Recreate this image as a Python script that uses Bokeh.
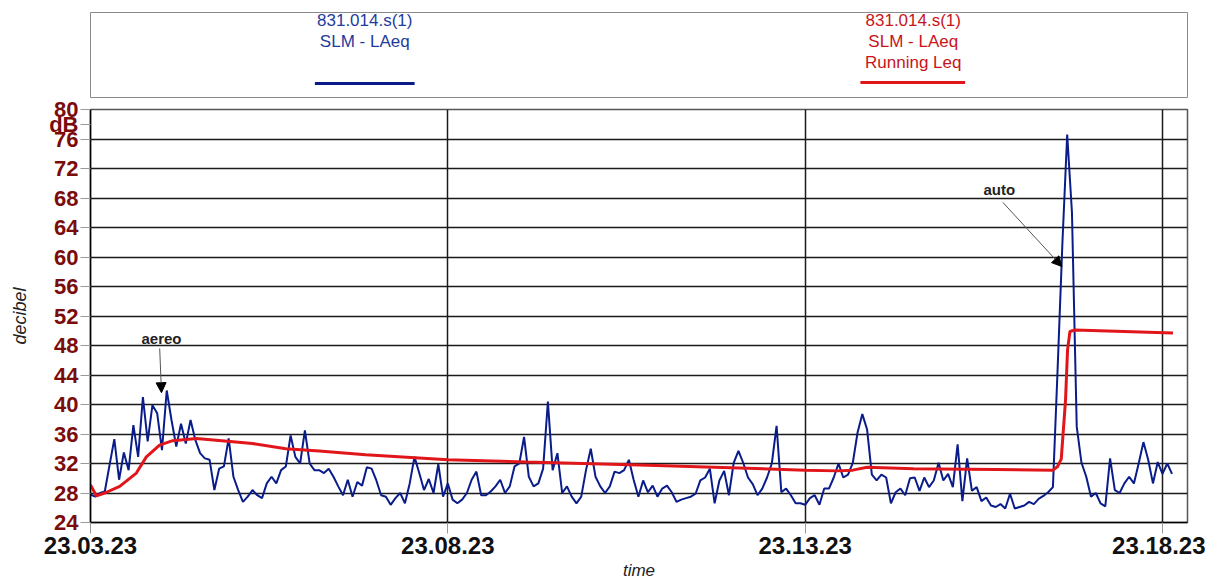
from bokeh.plotting import figure
from bokeh.layouts import column
from bokeh.models import Range1d, FixedTicker, Label, Arrow, NormalHead, Title
from bokeh.core.properties import value
from bokeh.embed import file_html
from bokeh.resources import INLINE

# ---------------- data ----------------
tick_seconds = [0, 300, 600, 900]
tick_labels = ["23.03.23", "23.08.23", "23.13.23", "23.18.23"]
y_ticks = [24, 28, 32, 36, 40, 44, 48, 52, 56, 60, 64, 68, 72, 76, 80]
unit_pos = 77.9
unit_label = "dB"

sample_step = 4  # seconds between LAeq samples
laeq = [
    27.8, 27.5, 28.0, 28.2, 31.8, 35.3, 29.8, 33.5, 31.1, 37.2,
    32.9, 41.0, 35.0, 39.9, 38.8, 33.8, 41.9, 37.9, 34.3, 37.4,
    34.7, 37.9, 35.2, 33.4, 32.7, 32.5, 28.4, 31.3, 31.6, 35.4,
    30.2, 28.4, 26.8, 27.5, 28.4, 27.7, 27.3, 29.3, 30.2, 29.3,
    31.1, 31.6, 35.8, 32.9, 32.0, 36.5, 32.0, 31.1, 31.1, 30.7,
    31.3, 30.2, 28.9, 27.7, 29.8, 27.5, 29.5, 29.0, 31.5, 31.3,
    29.7, 27.7, 27.5, 26.4, 27.3, 28.0, 26.6, 29.3, 32.9, 30.7,
    28.4, 29.9, 28.0, 31.9, 27.5, 29.3, 27.1, 26.6, 27.1, 28.0,
    29.8, 30.9, 27.7, 27.7, 28.2, 28.9, 29.8, 28.0, 28.9, 31.6,
    32.0, 35.6, 30.2, 28.9, 29.3, 31.3, 40.4, 31.1, 33.4, 28.0,
    28.9, 27.5, 26.6, 27.5, 31.1, 34.0, 30.2, 28.9, 28.0, 28.9,
    30.9, 30.7, 31.1, 32.5, 29.8, 27.5, 29.7, 28.1, 29.0, 27.5,
    28.6, 29.0, 28.1, 26.8, 27.1, 27.3, 27.5, 27.9, 29.7, 30.1,
    31.3, 26.6, 29.7, 31.0, 27.7, 32.1, 33.7, 32.1, 30.1, 29.2,
    27.7, 28.6, 30.1, 32.0, 37.1, 28.1, 28.6, 27.7, 26.6, 26.6,
    26.4, 27.3, 27.7, 26.4, 28.6, 28.6, 30.1, 32.0, 30.1, 30.5,
    32.1, 36.2, 38.7, 36.6, 30.5, 29.7, 30.5, 30.1, 26.6, 28.1,
    28.6, 27.7, 30.0, 30.1, 28.3, 30.1, 28.8, 29.7, 32.1, 29.7,
    30.6, 28.8, 34.6, 26.9, 32.7, 28.3, 28.8, 26.9, 27.4, 26.3,
    26.1, 26.5, 25.9, 27.9, 25.9, 26.1, 26.3, 26.8, 26.5, 27.2,
    27.6, 28.1, 28.8, 45.0, 62.0, 76.6, 66.0, 37.0, 32.1, 30.2,
    27.5, 28.0, 26.6, 26.2, 32.7, 28.4, 28.0, 29.3, 30.2, 29.3,
    32.0, 34.9, 32.5, 29.3, 32.2, 30.6, 32.0, 30.6,
]
laeq_t = [i * sample_step for i in range(len(laeq))]

running_t = [0, 5, 12, 24.5, 38.5, 46.9, 58, 69, 89, 136, 164, 192, 231, 300,
             366, 461, 600, 627, 640, 652, 691, 760, 808, 812, 815, 818.6,
             820.3, 822.3, 826.5, 908.8]
running_leq = [29.1, 27.6, 28.0, 28.9, 30.7, 32.9, 34.5, 35.1, 35.4, 34.7, 34.0,
               33.7, 33.2, 32.5, 32.2, 31.8, 31.1, 31.0, 31.1, 31.5, 31.3, 31.2,
               31.1, 31.6, 32.6, 40.6, 47.4, 49.9, 50.1, 49.7]

series_names = ["831.014.s(1)\nSLM - LAeq", "831.014.s(1)\nSLM - LAeq\nRunning Leq"]

BLUE = "#0a1c8a"
BLUE_TXT = "#1f3b9c"
RED = "#e0161b"
RED_TXT = "#c8141a"
TICK_RED = "#7a0c0c"
FONT = "Liberation Sans"

# ---------------- legend box ----------------
leg = figure(width=1205, height=98, output_backend="svg", toolbar_location=None,
             x_range=Range1d(0, 1100), y_range=Range1d(85, 0),
             min_border_left=90, min_border_right=15, min_border_top=12, min_border_bottom=1)
leg.axis.visible = False
leg.grid.visible = False
leg.outline_line_color = "#8a8a8a"
leg.outline_line_width = 1

entries = [(275, 225, 325, 71, BLUE, BLUE_TXT, series_names[0]),
           (825, 772, 877, 70, RED, RED_TXT, series_names[1])]
for cx, x0, x1, ly, lc, tc, name in entries:
    lines = name.split("\n")
    leg.text(x=[cx] * len(lines), y=[8 + 21 * k for k in range(len(lines))], text=lines,
             text_align="center", text_baseline="middle", text_font=value(FONT),
             text_font_size="17px", text_color=tc)
    leg.line(x=[x0, x1], y=[ly, ly], line_color=lc, line_width=3)

# ---------------- main plot ----------------
p = figure(width=1205, height=486, output_backend="svg", toolbar_location=None,
           x_range=Range1d(0, 921), y_range=Range1d(24, 80),
           min_border_left=89, min_border_right=18, min_border_top=11, min_border_bottom=62)

p.line(laeq_t, laeq, line_color=BLUE, line_width=2)
p.line(running_t, running_leq, line_color=RED, line_width=3)

p.yaxis.ticker = FixedTicker(ticks=y_ticks + [unit_pos])
p.yaxis.major_label_overrides = {unit_pos: unit_label}
p.yaxis.minor_tick_line_color = None
p.yaxis.major_tick_out = 10
p.yaxis.major_tick_in = 0
p.yaxis.major_tick_line_color = "#9a9a9a"
p.yaxis.axis_line_color = "black"
p.yaxis.axis_line_width = 1.5
p.yaxis.major_label_text_font = FONT
p.yaxis.major_label_text_font_style = "bold"
p.yaxis.major_label_text_font_size = "22px"
p.yaxis.major_label_text_color = TICK_RED
p.yaxis.major_label_standoff = 2
p.yaxis.axis_label = "decibel"
p.yaxis.axis_label_text_font = FONT
p.yaxis.axis_label_text_font_style = "italic"
p.yaxis.axis_label_text_font_size = "18px"
p.yaxis.axis_label_text_color = "#222222"
p.yaxis.axis_label_standoff = 16

p.xaxis.ticker = FixedTicker(ticks=tick_seconds)
p.xaxis.major_label_overrides = {t: l for t, l in zip(tick_seconds, tick_labels)}
p.xaxis.minor_tick_line_color = None
p.xaxis.major_tick_out = 11
p.xaxis.major_tick_in = 0
p.xaxis.major_tick_line_color = "#9a9a9a"
p.xaxis.axis_line_color = "black"
p.xaxis.axis_line_width = 1.5
p.xaxis.major_label_text_font = FONT
p.xaxis.major_label_text_font_style = "bold"
p.xaxis.major_label_text_font_size = "24px"
p.xaxis.major_label_text_color = "#111111"
p.xaxis.major_label_standoff = 3

p.ygrid.ticker = FixedTicker(ticks=y_ticks)
p.ygrid.grid_line_color = "#1a1a1a"
p.ygrid.grid_line_width = 1.5
p.xgrid.ticker = FixedTicker(ticks=tick_seconds)
p.xgrid.grid_line_color = "#1a1a1a"
p.xgrid.grid_line_width = 1.5
p.outline_line_color = "#555555"
p.outline_line_width = 1.5

# x-axis title
p.add_layout(Title(text="time", align="center", text_font=FONT, text_font_style="italic",
                   text_font_size="17px", text_color="#222222", standoff=5), "below")

# annotations
p.add_layout(Label(x=59.6, y=49.0, text="aereo", text_align="center", text_baseline="middle",
                   text_font=FONT, text_font_style="bold", text_font_size="15px",
                   text_color="#222222"))
p.add_layout(Arrow(x_start=58.1, y_start=47.6, x_end=59.6, y_end=41.6, line_color="#555555",
                   line_width=1, end=NormalHead(size=10, fill_color="black", line_color="black")))
p.add_layout(Label(x=763, y=69.2, text="auto", text_align="center", text_baseline="middle",
                   text_font=FONT, text_font_style="bold", text_font_size="15px",
                   text_color="#222222"))
p.add_layout(Arrow(x_start=766, y_start=67.4, x_end=815.6, y_end=58.7, line_color="#555555",
                   line_width=1, end=NormalHead(size=10, fill_color="black", line_color="black")))

layout = column(leg, p, spacing=0)
open("out.html", "w").write(file_html(layout, INLINE))
